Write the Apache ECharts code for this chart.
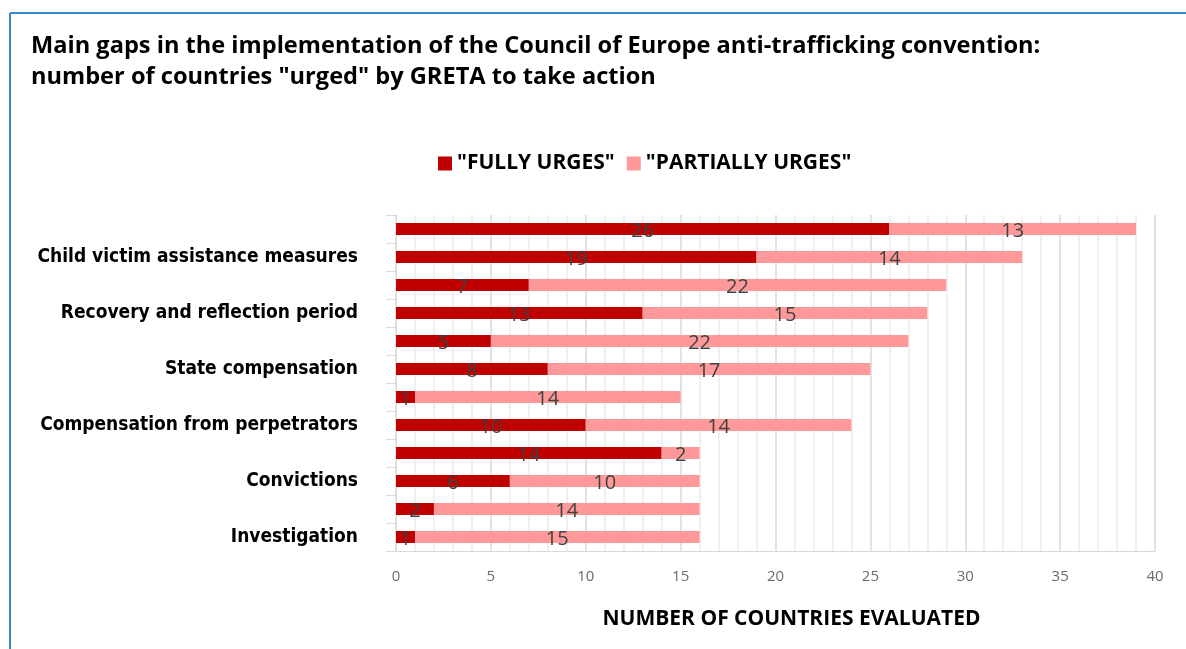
<!DOCTYPE html>
<html>
<head>
<meta charset="utf-8">
<script src="https://cdn.jsdelivr.net/npm/echarts@6/dist/echarts.min.js"></script>
<style>
  html, body { margin: 0; padding: 0; background: #fff; }
  #chart { width: 1186px; height: 649px; }
</style>
</head>
<body>
<div id="chart"></div>
<script>
// ================= 数据 =================
// bottom -> top, only every other row carries a printed label
const categories = [
  'Investigation', '',
  'Convictions', ' ',
  'Compensation from perpetrators', '  ',
  'State compensation', '   ',
  'Recovery and reflection period', '    ',
  'Child victim assistance measures', '     '
]
const fullyUrges = [1, 2, 6, 14, 10, 1, 8, 5, 13, 7, 19, 26]
const partiallyUrges = [15, 14, 10, 2, 14, 14, 17, 22, 15, 22, 14, 13]
const seriesNames = ['"FULLY URGES"', '"PARTIALLY URGES"']
const xTicks = [0, 40, 5]

const chart = echarts.init(document.getElementById('chart'))

const barLabel = {
  show: true,
  position: 'inside',
  offset: [0, 2],
  color: '#404040',
  fontFamily: 'Open Sans',
  fontSize: 20
}

const option = {
  animation: false,
  title: {
    text: 'Main gaps in the implementation of the Council of Europe anti-trafficking convention:\nnumber of countries "urged" by GRETA to take action',
    left: 31,
    top: 31,
    padding: 0,
    textStyle: {
      fontFamily: 'Open Sans',
      fontWeight: 'bold',
      fontSize: 23.6,
      lineHeight: 31,
      color: '#000'
    }
  },
  legend: {
    top: 148,
    left: 433,
    icon: 'rect',
    itemWidth: 14,
    itemHeight: 14,
    itemGap: 12,
    selectedMode: false,
    textStyle: {
      fontFamily: 'Open Sans',
      fontWeight: 'bold',
      fontSize: 21,
      color: '#000'
    }
  },
  grid: { left: 396, right: 31, top: 215, bottom: 98 },
  xAxis: {
    type: 'value',
    min: xTicks[0],
    max: xTicks[1],
    interval: xTicks[2],
    name: 'NUMBER OF COUNTRIES EVALUATED',
    nameLocation: 'middle',
    nameGap: 58,
    nameTextStyle: {
      fontFamily: 'Open Sans',
      fontWeight: 'bold',
      fontSize: 21,
      color: '#000',
      padding: [0, 0, 0, 32]
    },
    axisLine: { show: true, lineStyle: { color: '#d9d9d9' } },
    axisTick: { show: false },
    axisLabel: { color: '#6b6b6b', fontFamily: 'Open Sans', fontSize: 15, margin: 18 },
    splitLine: { show: true, lineStyle: { color: '#d9d9d9', width: 1.5 } },
    minorTick: { show: false, splitNumber: 5 },
    minorSplitLine: { show: true, lineStyle: { color: '#ececec', width: 1.5 } }
  },
  yAxis: {
    type: 'category',
    data: categories,
    axisLine: { show: true, lineStyle: { color: '#d9d9d9' } },
    axisTick: { show: true, length: 10, lineStyle: { color: '#d9d9d9' } },
    axisLabel: {
      interval: 0,
      margin: 38,
      color: '#000',
      fontFamily: 'DejaVu Sans Condensed',
      fontWeight: 'bold',
      fontSize: 19
    }
  },
  series: [
    {
      name: seriesNames[0],
      type: 'bar',
      stack: 'total',
      barWidth: 12,
      itemStyle: { color: '#c00000' },
      label: barLabel,
      data: fullyUrges
    },
    {
      name: seriesNames[1],
      type: 'bar',
      stack: 'total',
      barWidth: 12,
      itemStyle: { color: '#ff9999' },
      label: barLabel,
      data: partiallyUrges
    }
  ],
  graphic: [
    { type: 'line', shape: { x1: 10, y1: 13, x2: 1186, y2: 13 }, style: { stroke: '#3a87c8', lineWidth: 2 } },
    { type: 'line', shape: { x1: 10, y1: 13, x2: 10, y2: 649 }, style: { stroke: '#3a87c8', lineWidth: 2 } }
  ]
}

chart.setOption(option)
</script>
</body>
</html>
